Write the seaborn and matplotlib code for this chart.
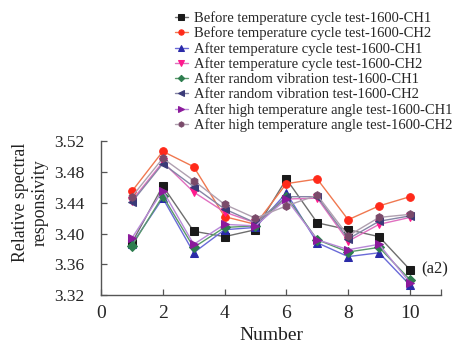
import numpy as np
import pandas as pd
import matplotlib
matplotlib.use('Agg')
import matplotlib.pyplot as plt
import seaborn as sns

# data
number = [1, 2, 3, 4, 5, 6, 7, 8, 9, 10]
before_tc_ch1 = [3.388, 3.462, 3.403, 3.396, 3.405, 3.471, 3.414, 3.405, 3.396, 3.353]
before_tc_ch2 = [3.455, 3.507, 3.487, 3.422, 3.412, 3.465, 3.471, 3.418, 3.436, 3.448]
after_tc_ch1 = [3.386, 3.446, 3.375, 3.405, 3.408, 3.453, 3.388, 3.370, 3.375, 3.333]
after_tc_ch2 = [3.443, 3.493, 3.454, 3.428, 3.414, 3.445, 3.446, 3.390, 3.412, 3.421]
after_rv_ch1 = [3.384, 3.449, 3.382, 3.408, 3.410, 3.448, 3.392, 3.376, 3.382, 3.340]
after_rv_ch2 = [3.441, 3.491, 3.461, 3.432, 3.414, 3.448, 3.448, 3.393, 3.416, 3.423]
after_ht_ch1 = [3.394, 3.456, 3.386, 3.412, 3.410, 3.445, 3.392, 3.379, 3.386, 3.336]
after_ht_ch2 = [3.448, 3.498, 3.469, 3.438, 3.420, 3.436, 3.450, 3.397, 3.421, 3.425]

labels = [
    'Before temperature cycle test-1600-CH1',
    'Before temperature cycle test-1600-CH2',
    'After temperature cycle test-1600-CH1',
    'After temperature cycle test-1600-CH2',
    'After random vibration test-1600-CH1',
    'After random vibration test-1600-CH2',
    'After high temperature angle test-1600-CH1',
    'After high temperature angle test-1600-CH2',
]
series = [before_tc_ch1, before_tc_ch2, after_tc_ch1, after_tc_ch2,
          after_rv_ch1, after_rv_ch2, after_ht_ch1, after_ht_ch2]
markers = ['s', 'o', '^', 'v', 'D', '<', '>', 'h']
marker_colors = ['#1a1a1a', '#ff2a1a', '#2a2aa8', '#ff1a8c',
                 '#2e7d4f', '#3a3a78', '#8b1a9b', '#7a4a6a']
line_colors = ['#6e6e6e', '#f07850', '#6a6ad8', '#e070c0',
               '#5a9a6a', '#8585a5', '#b888d8', '#b0a0b0']

sns.set_style('ticks')
plt.rcParams['font.family'] = ['Liberation Serif', 'DejaVu Serif']

fig = plt.figure(figsize=(4.54, 3.44), dpi=100)
ax = fig.add_axes([0.2225, 0.1424, 0.7485, 0.4466])

for vals, lab, m, mc, lc in zip(series, labels, markers, marker_colors, line_colors):
    df = pd.DataFrame({'Number': number, 'value': vals})
    sns.lineplot(data=df, x='Number', y='value', ax=ax, color=lc, linewidth=1.0,
                 marker=m, markersize=5.5 if m != 'D' else 4.6,
                 markerfacecolor=mc, markeredgecolor=mc, label=lab)

ax.set_xlim(0, 11)
ax.set_ylim(3.32, 3.52)
ax.set_xticks([0, 2, 4, 6, 8, 10])
ax.set_xticks([11], minor=True)
ax.set_yticks([3.32, 3.36, 3.40, 3.44, 3.48, 3.52])
ax.set_yticklabels(['3.32', '3.36', '3.40', '3.44', '3.48', '3.52'])
ax.tick_params(axis='both', which='both', direction='in', length=4,
               width=0.9, color='#555555')
ax.tick_params(axis='x', labelsize=14, pad=7)
ax.tick_params(axis='y', labelsize=12.5, pad=12)
for s in ['top', 'right']:
    ax.spines[s].set_visible(False)
for s in ['left', 'bottom']:
    ax.spines[s].set_color('#555555')
    ax.spines[s].set_linewidth(1.0)

ax.set_xlabel('Number', fontsize=14, color='#222222')
ax.xaxis.set_label_coords(0.5, -0.205)
ax.set_ylabel('Relative spectral\nresponsivity', fontsize=12.8,
              color='#222222', linespacing=1.2)
ax.yaxis.set_label_coords(-0.155, 0.6)

ax.text(10.35, 3.353, '(a2)', fontsize=12, color='#222222', va='center', ha='left')

handles, labs = ax.get_legend_handles_labels()
ax.get_legend().remove()
fig.legend(handles, labs, loc='upper left', bbox_to_anchor=(0.385, 0.968),
           frameon=False, fontsize=10.5, labelspacing=0.12, handlelength=0.9,
           handletextpad=0.45, borderpad=0, borderaxespad=0, markerscale=0.7)

fig.savefig('out.png', dpi=100)
